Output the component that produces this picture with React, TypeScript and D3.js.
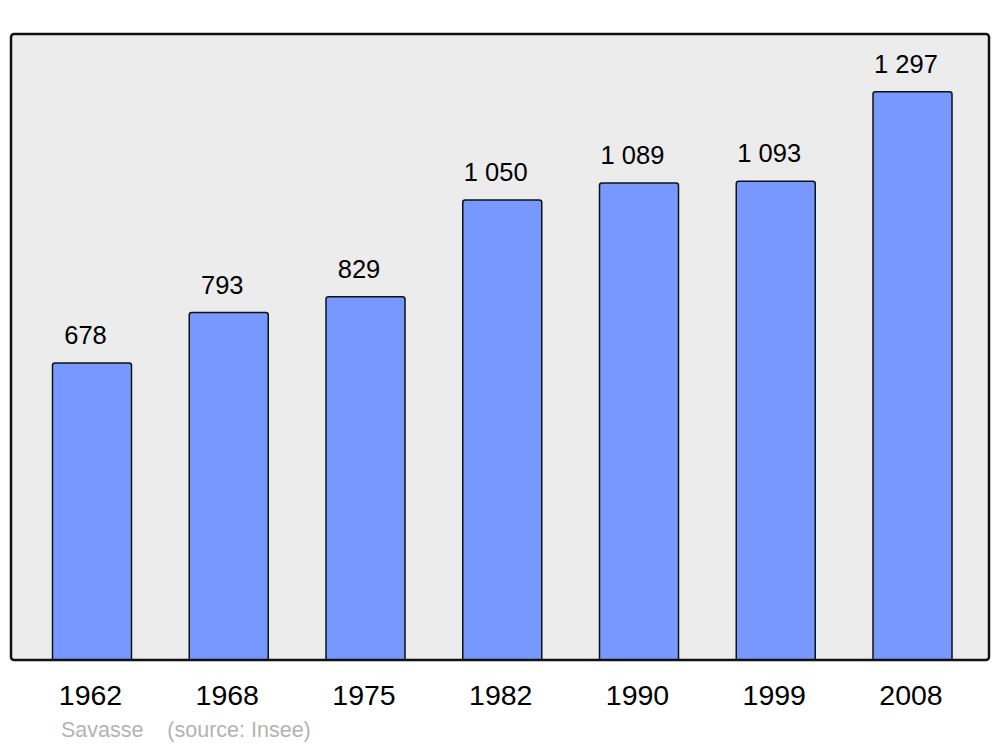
import React from "react";
import * as d3 from "d3";

const years = ["1962", "1968", "1975", "1982", "1990", "1999", "2008"];
const population = [678, 793, 829, 1050, 1089, 1093, 1297];
const valueLabels = ["678", "793", "829", "1 050", "1 089", "1 093", "1 297"];
const sourceText = "Savasse    (source: Insee)";

const W = 1000;
const H = 747;
const panel = { x: 11, y: 34, w: 978, h: 626 };

export default function App() {
  const x = d3.scalePoint<string>().domain(years).range([92, 912.5]);
  const y = d3.scaleLinear().domain([0, 1429]).range([panel.y + panel.h, panel.y]);
  const barW = 79;
  const font = "'Liberation Sans', Arial, sans-serif";

  const barPath = (cx: number, top: number, bottom: number) => {
    const l = cx - barW / 2;
    const r = cx + barW / 2;
    const rr = 2.5;
    const p = d3.path();
    p.moveTo(l, bottom);
    p.lineTo(l, top + rr);
    p.quadraticCurveTo(l, top, l + rr, top);
    p.lineTo(r - rr, top);
    p.quadraticCurveTo(r, top, r, top + rr);
    p.lineTo(r, bottom);
    return p.toString();
  };

  return (
    <svg width={W} height={H} style={{ position: "absolute", left: 0, top: 0, background: "#fff" }}>
      <rect x={panel.x} y={panel.y} width={panel.w} height={panel.h} rx={3} ry={3} fill="#ececec" stroke="none" />
      {years.map((yr, i) => {
        const cx = x(yr)!;
        const top = y(population[i]);
        const bottom = y(0);
        return (
          <g key={yr}>
            <path d={barPath(cx, top, bottom)} fill="#7799ff" stroke="#111" strokeWidth={1.5} />
            <text x={cx - 6.5} y={top - 19} textAnchor="middle" fontFamily={font} fontSize={25.5} fill="#000">
              {valueLabels[i]}
            </text>
            <text x={cx - 1.5} y={705} textAnchor="middle" fontFamily={font} fontSize={28.5} fill="#000">
              {yr}
            </text>
          </g>
        );
      })}
      <rect x={panel.x} y={panel.y} width={panel.w} height={panel.h} rx={3} ry={3} fill="none" stroke="#111" strokeWidth={2.5} />
      <text x={61} y={737} fontFamily={font} fontSize={21.5} fill="#b3b3b3" style={{ whiteSpace: "pre" }} xmlSpace="preserve">
        {sourceText}
      </text>
    </svg>
  );
}
